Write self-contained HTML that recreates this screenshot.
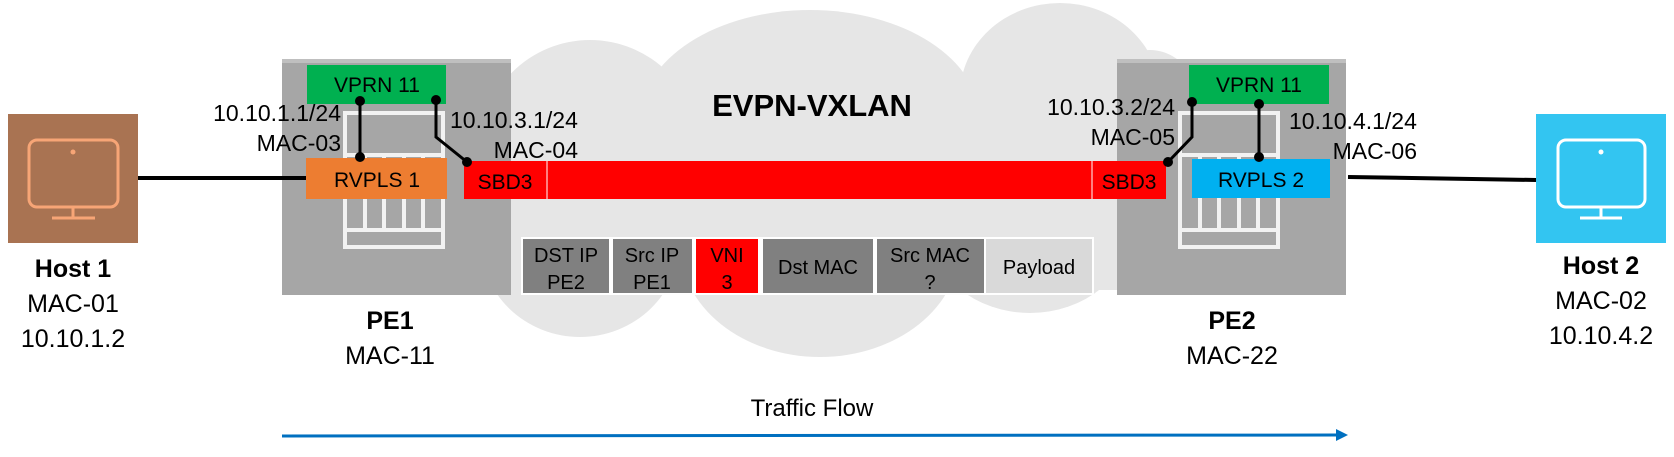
<!DOCTYPE html>
<html><head><meta charset="utf-8"><style>
html,body{margin:0;padding:0;background:#fff;}
svg{display:block;font-family:"Liberation Sans",sans-serif;}
</style></head><body>
<svg width="1674" height="457" viewBox="0 0 1674 457" xmlns="http://www.w3.org/2000/svg">
<!-- cloud -->
<g fill="#e6e6e6">
<ellipse cx="590" cy="150" rx="110" ry="110"/>
<ellipse cx="810" cy="120" rx="170" ry="110"/>
<ellipse cx="1060" cy="95" rx="100" ry="92"/>
<ellipse cx="1150" cy="150" rx="65" ry="100"/>
<ellipse cx="580" cy="240" rx="100" ry="97"/>
<ellipse cx="820" cy="245" rx="140" ry="112"/>
<ellipse cx="1030" cy="230" rx="100" ry="83"/>
<rect x="520" y="90" width="640" height="200"/>
</g>
<!-- PE boxes -->
<rect x="282" y="59" width="229" height="236" fill="#a6a6a6"/>
<rect x="282" y="59" width="229" height="4" fill="#bfbfbf"/>
<rect x="1117" y="59" width="229" height="236" fill="#a6a6a6"/>
<rect x="1117" y="59" width="229" height="4" fill="#bfbfbf"/>
<!-- chassis icons -->
<g fill="none" stroke="#f2f2f2" stroke-width="4">
<rect x="345" y="113" width="98" height="134"/>
<line x1="345" y1="155" x2="443" y2="155"/>
<line x1="345" y1="230" x2="443" y2="230"/>
<line x1="365" y1="155" x2="365" y2="230"/><line x1="384" y1="155" x2="384" y2="230"/><line x1="404" y1="155" x2="404" y2="230"/><line x1="423" y1="155" x2="423" y2="230"/>
<rect x="1180" y="113" width="98" height="134"/>
<line x1="1180" y1="155" x2="1278" y2="155"/>
<line x1="1180" y1="230" x2="1278" y2="230"/>
<line x1="1200" y1="155" x2="1200" y2="230"/><line x1="1219" y1="155" x2="1219" y2="230"/><line x1="1239" y1="155" x2="1239" y2="230"/><line x1="1258" y1="155" x2="1258" y2="230"/>
</g>
<!-- hosts -->
<rect x="8" y="114" width="130" height="129" fill="#a97352"/>
<g fill="none" stroke="#f7a576" stroke-width="3">
<rect x="29" y="140" width="89" height="67" rx="8"/>
<line x1="73" y1="207" x2="73" y2="218"/><line x1="52" y1="218" x2="95" y2="218"/>
</g>
<circle cx="73" cy="152" r="2.5" fill="#f7a576"/>
<rect x="1536" y="114" width="130" height="129" fill="#33c5f1"/>
<g fill="none" stroke="#fff" stroke-width="3">
<rect x="1558" y="140" width="87" height="67" rx="8"/>
<line x1="1601" y1="207" x2="1601" y2="218"/><line x1="1580" y1="218" x2="1622" y2="218"/>
</g>
<circle cx="1601" cy="152" r="2.5" fill="#fff"/>
<!-- host lines -->
<line x1="138" y1="178" x2="307" y2="178" stroke="#000" stroke-width="4"/>
<line x1="1348" y1="177" x2="1536" y2="180" stroke="#000" stroke-width="4"/>
<!-- red bar -->
<rect x="464" y="161" width="702" height="38" fill="#ff0000"/>
<line x1="547" y1="161" x2="547" y2="199" stroke="#fff" stroke-width="1"/>
<line x1="1092" y1="161" x2="1092" y2="199" stroke="#fff" stroke-width="1"/>
<!-- VPRN / RVPLS -->
<rect x="307" y="65" width="139" height="39" fill="#00b050"/>
<rect x="306" y="158" width="141" height="41" fill="#ed7d31"/>
<rect x="1189" y="65" width="140" height="39" fill="#00b050"/>
<rect x="1192" y="159" width="138" height="39" fill="#00b0f0"/>
<!-- connectors -->
<g stroke="#000" stroke-width="3" fill="none">
<line x1="360" y1="101" x2="360" y2="157"/>
<polyline points="436,100 436,137 467,162"/>
<polyline points="1192,102 1192,137 1168,162"/>
<line x1="1259" y1="104" x2="1259" y2="157"/>
</g>
<g fill="#000">
<circle cx="360" cy="101" r="5"/><circle cx="360" cy="157" r="5"/>
<circle cx="436" cy="100" r="5"/><circle cx="467" cy="162" r="5"/>
<circle cx="1192" cy="102" r="5"/><circle cx="1168" cy="162" r="5"/>
<circle cx="1259" cy="104" r="5"/><circle cx="1259" cy="157" r="5"/>
</g>
<!-- packet -->
<rect x="521" y="237" width="573" height="58" fill="#fff"/>
<rect x="523" y="239" width="86" height="54" fill="#808080"/>
<rect x="613" y="239" width="79" height="54" fill="#808080"/>
<rect x="696" y="239" width="62" height="54" fill="#ff0000"/>
<rect x="763" y="239" width="110" height="54" fill="#808080"/>
<rect x="877" y="239" width="107" height="54" fill="#808080"/>
<rect x="986" y="239" width="106" height="54" fill="#d9d9d9"/>
<g font-size="20" text-anchor="middle" fill="#000">
<text x="566" y="262">DST IP</text><text x="566" y="289">PE2</text>
<text x="652" y="262">Src IP</text><text x="652" y="289">PE1</text>
<text x="727" y="262">VNI</text><text x="727" y="289">3</text>
<text x="818" y="274">Dst MAC</text>
<text x="930" y="262">Src MAC</text><text x="930" y="289">?</text>
<text x="1039" y="274">Payload</text>
</g>
<!-- box labels -->
<g font-size="21" text-anchor="middle" fill="#000">
<text x="377" y="92">VPRN 11</text>
<text x="377" y="187">RVPLS 1</text>
<text x="505" y="189">SBD3</text>
<text x="1129" y="189">SBD3</text>
<text x="1259" y="92">VPRN 11</text>
<text x="1261" y="187">RVPLS 2</text>
</g>
<!-- address labels -->
<g font-size="23" fill="#000">
<text x="341" y="121" text-anchor="end">10.10.1.1/24</text>
<text x="341" y="151" text-anchor="end">MAC-03</text>
<text x="450" y="128">10.10.3.1/24</text>
<text x="578" y="158" text-anchor="end">MAC-04</text>
<text x="1175" y="115" text-anchor="end">10.10.3.2/24</text>
<text x="1175" y="145" text-anchor="end">MAC-05</text>
<text x="1289" y="129">10.10.4.1/24</text>
<text x="1417" y="159" text-anchor="end">MAC-06</text>
</g>
<text x="812" y="116" font-size="31" font-weight="bold" text-anchor="middle">EVPN-VXLAN</text>
<!-- node captions -->
<g font-size="25" text-anchor="middle" fill="#000">
<text x="73" y="277" font-weight="bold">Host 1</text>
<text x="73" y="312">MAC-01</text>
<text x="73" y="347">10.10.1.2</text>
<text x="390" y="329" font-weight="bold">PE1</text>
<text x="390" y="364">MAC-11</text>
<text x="1232" y="329" font-weight="bold">PE2</text>
<text x="1232" y="364">MAC-22</text>
<text x="1601" y="274" font-weight="bold">Host 2</text>
<text x="1601" y="309">MAC-02</text>
<text x="1601" y="344">10.10.4.2</text>
<text x="812" y="416" font-size="24">Traffic Flow</text>
</g>
<!-- arrow -->
<line x1="282" y1="436" x2="1338" y2="435" stroke="#0070c0" stroke-width="3"/>
<polygon points="1336,429 1348,435 1336,441" fill="#0070c0"/>
</svg>
</body></html>
